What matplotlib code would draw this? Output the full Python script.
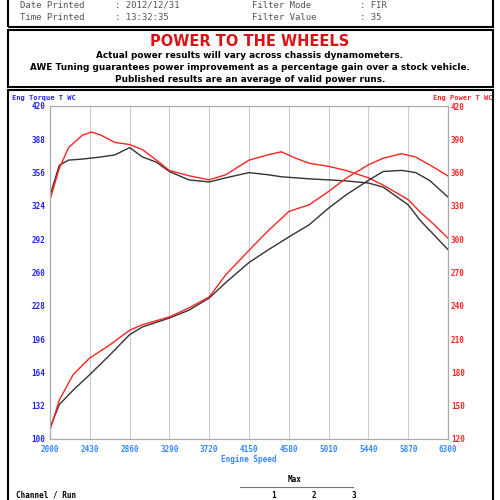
import matplotlib
matplotlib.use("Agg")
import matplotlib.pyplot as plt
from matplotlib.patches import Rectangle

# torque curves (left axis)
rpm_tq = [2000, 2100, 2200, 2350, 2450, 2550, 2700, 2860, 3000, 3150, 3290, 3500, 3720,
          3900, 4150, 4350, 4500, 4650, 4800, 5010, 5200, 5440, 5600, 5870, 6000, 6150, 6300]
tq_red = [330, 360, 380, 392, 395, 392, 385, 383, 378, 368, 358, 353, 349,
          354, 368, 373, 376, 370, 365, 362, 358, 351, 344, 330, 318, 306, 293]
tq_black = [334, 363, 368, 369, 370, 371, 373, 380, 371, 366, 357, 349, 347,
            351, 356, 354, 352, 351, 350, 349, 348, 346, 342, 325, 310, 296, 282]

# power curves (right axis)
rpm_pw = [2000, 2100, 2250, 2430, 2650, 2860, 3000, 3290, 3500, 3720, 3900, 4150,
          4350, 4580, 4800, 5010, 5200, 5440, 5600, 5800, 5950, 6100, 6300]
pw_black = [130, 151, 164, 178, 196, 214, 221, 229, 236, 247, 261, 279,
            290, 302, 313, 328, 340, 353, 361, 362, 360, 353, 338]
pw_red = [128, 155, 178, 193, 205, 218, 223, 230, 238, 248, 268, 290,
          307, 325, 331, 343, 355, 367, 373, 377, 374, 367, 357]

x_ticks = [2000, 2430, 2860, 3290, 3720, 4150, 4580, 5010, 5440, 5870, 6300]
left_ticks = [100, 132, 164, 196, 228, 260, 292, 324, 356, 388, 420]
right_ticks = [120, 150, 180, 210, 240, 270, 300, 330, 360, 390, 420]

mono = "DejaVu Sans Mono"
fig = plt.figure(figsize=(5, 5), dpi=100)

# header boxes
fig.patches.append(Rectangle((0.015, 0.946), 0.97, 0.06, transform=fig.transFigure,
                             fill=False, lw=1.5, ec="black"))
fig.patches.append(Rectangle((0.015, 0.826), 0.97, 0.114, transform=fig.transFigure,
                             fill=False, lw=1.5, ec="black"))
fig.patches.append(Rectangle((0.015, -0.01), 0.97, 0.83, transform=fig.transFigure,
                             fill=False, lw=1.5, ec="black"))

for x, s in [(0.04, "Date Printed"), (0.23, ": 2012/12/31"), (0.505, "Filter Mode"), (0.72, ": FIR")]:
    fig.text(x, 0.99, s, fontsize=6.5, family=mono, color="#555555", va="center")
for x, s in [(0.04, "Time Printed"), (0.23, ": 13:32:35"), (0.505, "Filter Value"), (0.72, ": 35")]:
    fig.text(x, 0.964, s, fontsize=6.5, family=mono, color="#555555", va="center")

fig.text(0.5, 0.918, "POWER TO THE WHEELS", color="#dd1111", fontsize=10.5, weight="bold", ha="center", va="center")
fig.text(0.5, 0.888, "Actual power results will vary across chassis dynamometers.", fontsize=6.4, weight="bold", ha="center", va="center")
fig.text(0.5, 0.865, "AWE Tuning guarantees power improvement as a percentage gain over a stock vehicle.", fontsize=6.4, weight="bold", ha="center", va="center")
fig.text(0.5, 0.842, "Published results are an average of valid power runs.", fontsize=6.4, weight="bold", ha="center", va="center")

ax = fig.add_axes([0.1, 0.122, 0.796, 0.666])
ax.plot(rpm_tq, tq_black, color="#333333", lw=1)
ax.plot(rpm_tq, tq_red, color="#ff2222", lw=1)
ax.set_xlim(2000, 6300)
ax.set_ylim(100, 420)
ax.set_xticks(x_ticks)
ax.set_yticks(left_ticks)
ax.grid(axis="x", color="#cccccc", lw=0.8)
ax.tick_params(length=0, labelsize=5.5)
ax.tick_params(axis="x", pad=4)
for t in ax.get_xticklabels():
    t.set_color("#3388ff")
    t.set_family(mono)
    t.set_weight("bold")
for t in ax.get_yticklabels():
    t.set_color("#2222ee")
    t.set_family(mono)
    t.set_weight("bold")
for sp in ax.spines.values():
    sp.set_color("#aaaaaa")
ax.set_xlabel("Engine Speed", fontsize=5.5, color="#3388ff", family=mono, weight="bold", labelpad=1)

ax2 = ax.twinx()
ax2.plot(rpm_pw, pw_black, color="#333333", lw=1)
ax2.plot(rpm_pw, pw_red, color="#ff2222", lw=1)
ax2.set_ylim(120, 420)
ax2.set_yticks(right_ticks)
ax2.tick_params(length=0, labelsize=5.5, pad=2)
for t in ax2.get_yticklabels():
    t.set_color("#ff2222")
    t.set_family(mono)
    t.set_weight("bold")
for sp in ax2.spines.values():
    sp.set_color("#aaaaaa")

fig.text(0.025, 0.8, "Eng Torque T WC", fontsize=5, color="#2222ee", family=mono, weight="bold")
fig.text(0.985, 0.8, "Eng Power T WC", fontsize=5, color="#ff2222", family=mono, weight="bold", ha="right")

# bottom table header
fig.text(0.59, 0.037, "Max", fontsize=5.5, family=mono, weight="bold", ha="center")
fig.add_artist(plt.Line2D([0.48, 0.705], [0.026, 0.026], color="#777777", lw=0.8))
fig.text(0.033, 0.004, "Channel / Run", fontsize=5.5, family=mono, weight="bold")
for x, s in [(0.547, "1"), (0.627, "2"), (0.707, "3")]:
    fig.text(x, 0.004, s, fontsize=5.5, family=mono, weight="bold", ha="center")

fig.savefig("out.png", dpi=100)
